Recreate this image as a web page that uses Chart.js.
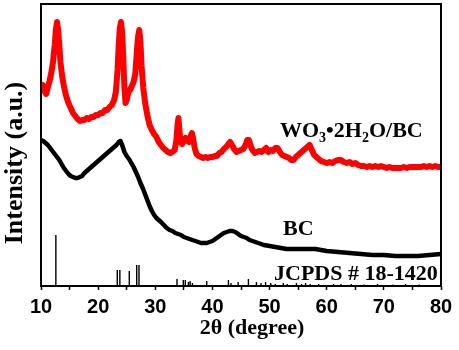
<!DOCTYPE html>
<html>
<head>
<meta charset="utf-8">
<script src="https://cdn.jsdelivr.net/npm/chart.js@4"></script>
<style>
  html, body { margin: 0; padding: 0; background: #fff; }
  #wrap { width: 459px; height: 350px; }
</style>
</head>
<body>
<div id="wrap"><canvas id="xrd"></canvas></div>
<script>
// WO3·2H2O/BC pattern (offset, arbitrary units)
const wo3Angle = [10.0, 10.3, 10.6, 10.9, 11.2, 11.5, 11.8, 12.1, 12.4, 12.6, 12.8, 13.0, 13.2, 13.4, 13.7, 14.0, 14.4, 14.8, 15.2, 15.6,
    16.0, 16.4, 16.8, 17.2, 17.6, 18.0, 18.4, 18.8, 19.2, 19.6, 20.0, 20.4, 20.8, 21.2, 21.6, 22.0, 22.4, 22.8, 23.1, 23.4,
    23.6, 23.8, 24.0, 24.2, 24.4, 24.6, 24.8, 25.0, 25.3, 25.6, 25.9, 26.2, 26.5, 26.8, 27.0, 27.2, 27.4, 27.6, 27.9, 28.2,
    28.6, 29.0, 29.4, 29.8, 30.2, 30.6, 31.0, 31.4, 31.8, 32.2, 32.6, 33.0, 33.4, 33.7, 33.9, 34.05, 34.2, 34.4, 34.7, 35.0,
    35.3, 35.6, 35.9, 36.2, 36.4, 36.6, 36.9, 37.2, 37.6, 38.0, 38.4, 38.8, 39.2, 39.6, 40.0, 40.4, 40.8, 41.2, 41.6, 42.0,
    42.4, 42.8, 43.1, 43.4, 43.8, 44.2, 44.6, 45.0, 45.4, 45.8, 46.1, 46.4, 46.7, 47.0, 47.4, 47.8, 48.2, 48.6, 49.0, 49.4,
    49.8, 50.2, 50.6, 51.0, 51.4, 51.8, 52.2, 52.6, 53.0, 53.4, 53.8, 54.2, 54.6, 55.0, 55.4, 55.8, 56.2, 56.6, 57.0, 57.4,
    57.8, 58.2, 58.6, 59.0, 59.5, 60.0, 60.5, 61.0, 61.5, 62.0, 62.5, 63.0, 63.5, 64.0, 64.5, 65.0, 65.5, 66.0, 66.5, 67.0,
    67.5, 68.0, 68.5, 69.0, 69.5, 70.0, 70.5, 71.0, 71.5, 72.0, 72.5, 73.0, 73.5, 74.0, 74.5, 75.0, 75.5, 76.0, 76.5, 77.0,
    77.5, 78.0, 78.5, 79.0, 79.5, 80.0];
const wo3Intensity = [198, 201, 195, 192, 199, 205, 213, 224, 241, 256, 264, 256, 241, 224, 210, 200, 190, 183, 178, 173,
    170, 167, 165, 166, 166, 168, 167, 169, 169, 171, 171, 173, 173, 176, 176, 179, 181, 186, 194, 216,
    241, 258, 264, 254, 228, 198, 183, 186, 194, 196, 200, 204, 212, 236, 250, 256, 244, 220, 198, 184,
    171, 161, 156, 152, 149, 144, 141, 138, 136, 134, 133, 134, 136, 146, 161, 168, 158, 144, 142, 146,
    148, 145, 144, 150, 153, 148, 138, 132, 130, 129, 128, 129, 128, 129, 129, 130, 130, 133, 134, 137,
    139, 142, 144, 141, 137, 134, 135, 136, 137, 141, 146, 146, 140, 136, 133, 134, 135, 134, 136, 138,
    134, 136, 135, 138, 138, 134, 131, 130, 129, 128, 126, 126, 129, 131, 133, 135, 137, 139, 141, 136,
    131, 129, 127, 125, 124, 123, 124, 123, 125, 126, 126, 124, 123, 124, 122, 123, 121, 120, 120, 119,
    120, 119, 120, 119, 120, 119, 118, 119, 118, 118, 118, 118, 119, 118, 119, 119, 119, 119, 119, 120,
    119, 120, 119, 120, 119, 119];

// bare BC pattern
const bcAngle = [10.0, 10.4, 10.8, 11.2, 11.6, 12.0, 12.4, 12.8, 13.2, 13.6, 14.0, 14.4, 14.8, 15.2, 15.6, 16.0, 16.4, 16.8, 17.2, 17.6,
    18.0, 18.4, 18.8, 19.2, 19.6, 20.0, 20.4, 20.8, 21.2, 21.6, 22.0, 22.4, 22.8, 23.2, 23.6, 23.9, 24.2, 24.6, 25.0, 25.4,
    25.8, 26.2, 26.6, 27.0, 27.4, 27.8, 28.2, 28.6, 29.0, 29.4, 29.8, 30.2, 30.6, 31.0, 31.5, 32.0, 32.5, 33.0, 33.5, 34.0,
    34.5, 35.0, 35.5, 36.0, 36.5, 37.0, 37.5, 38.0, 38.5, 39.0, 39.5, 40.0, 40.5, 41.0, 41.5, 42.0, 42.5, 43.0, 43.5, 44.0,
    44.5, 45.0, 45.5, 46.0, 46.5, 47.0, 47.5, 48.0, 48.5, 49.0, 50.0, 51.0, 52.0, 53.0, 54.0, 55.0, 56.0, 57.0, 58.0, 59.0,
    60.0, 62.0, 64.0, 66.0, 68.0, 70.0, 72.0, 74.0, 76.0, 78.0, 80.0];
const bcIntensity = [146, 145, 143, 141, 138, 135, 132, 129, 126, 122, 118, 115, 112, 110, 109, 108, 108, 109, 110, 113,
    115, 117, 119, 121, 123, 125, 127, 129, 131, 133, 135, 137, 139, 141, 144, 145, 141, 134, 130, 127,
    123, 119, 114, 109, 103, 98, 92, 86, 80, 75, 71, 68, 66, 64, 61, 58, 56, 55, 53, 52,
    51, 49, 48, 47, 46, 45, 44, 43, 43, 43, 44, 45, 47, 49, 51, 53, 54, 55, 55, 54,
    52, 50, 49, 48, 46, 45, 44, 43, 42, 41, 40, 39, 38, 37, 37, 37, 37, 37, 37, 36,
    35, 34, 33, 32, 31, 31, 30, 30, 30, 31, 32];

// JCPDS # 18-1420 reference lines
const stickAngle = [12.6, 23.35, 23.8, 25.45, 26.75, 27.15, 33.8, 34.9, 35.25, 35.8, 36.1, 36.5, 39.0, 42.8, 43.25, 44.5, 46.3, 47.7,
    48.5, 49.3, 50.2, 51.0, 52.4, 53.1, 54.7, 55.6, 56.3, 57.1, 58.6, 61.2, 62.5, 64.3, 66.5, 68.9, 71.6, 73.8, 76.2];
const stickHeight = [51, 16, 16, 15, 21, 21, 7, 6, 6, 4, 5, 3, 5, 6, 3, 4, 7, 4,
    3, 4, 3, 2, 3, 2, 3, 2, 3, 2, 2, 2, 2, 2, 1.5, 2, 1.5, 2, 1.5];

const xTicks = [10, 20, 30, 40, 50, 60, 70, 80];

const toPoints = (xs, ys) => xs.map((x, i) => ({ x: x, y: ys[i] }));

// each stick: bottom, top, then a gap
const stickPoints = [];
stickAngle.forEach((a, i) => {
    stickPoints.push({ x: a, y: 0 }, { x: a, y: stickHeight[i] }, { x: a, y: null });
});

const serif = '"Liberation Serif", "Times New Roman", serif';

// labels, axis titles and the frame
const labelPlugin = {
    id: 'labels',
    afterDraw(chart) {
        const ctx = chart.ctx;
        const a = chart.chartArea;
        ctx.save();
        ctx.strokeStyle = '#000';
        ctx.lineWidth = 2;
        ctx.strokeRect(a.left, a.top, a.right - a.left, a.bottom - a.top);

        ctx.fillStyle = '#000';
        ctx.textBaseline = 'alphabetic';
        ctx.textAlign = 'left';

        // WO3•2H2O/BC with subscripts
        const big = 'bold 22px ' + serif;
        const sub = 'bold 14px ' + serif;
        const parts = [['WO', big, 0], ['3', sub, 5], ['\u20222H', big, 0], ['2', sub, 5], ['O/BC', big, 0]];
        let x = 280;
        parts.forEach(([t, f, dy]) => {
            ctx.font = f;
            ctx.fillText(t, x, 137 + dy);
            x += ctx.measureText(t).width;
        });

        ctx.font = big;
        ctx.fillText('BC', 283, 235);
        ctx.fillText('JCPDS # 18-1420', 274, 280);

        ctx.font = 'bold 22px ' + serif;
        ctx.textAlign = 'center';
        ctx.fillText('2\u03b8 (degree)', 252, 334);

        ctx.translate(22, 163);
        ctx.rotate(-Math.PI / 2);
        ctx.font = 'bold 26px ' + serif;
        ctx.fillText('Intensity (a.u.)', 0, 0);
        ctx.restore();
    }
};

new Chart(document.getElementById('xrd'), {
    type: 'line',
    data: {
        datasets: [
            {
                label: 'JCPDS # 18-1420',
                data: stickPoints,
                borderColor: '#000',
                borderWidth: 1.4,
                pointRadius: 0,
                spanGaps: false
            },
            {
                label: 'BC',
                data: toPoints(bcAngle, bcIntensity),
                borderColor: '#000',
                borderWidth: 4.5,
                borderJoinStyle: 'round',
                pointRadius: 0
            },
            {
                label: 'WO3·2H2O/BC',
                data: toPoints(wo3Angle, wo3Intensity),
                borderColor: '#ff0000',
                borderWidth: 6,
                borderJoinStyle: 'round',
                pointRadius: 0
            }
        ]
    },
    options: {
        responsive: true,
        maintainAspectRatio: false,
        animation: false,
        layout: { padding: { top: 4, right: 18, left: 0, bottom: 0 } },
        plugins: {
            legend: { display: false },
            tooltip: { enabled: false }
        },
        scales: {
            x: {
                type: 'linear',
                min: 10,
                max: 80,
                offset: false,
                afterFit: s => { s.height = 64; },
                afterBuildTicks: s => {
                    const t = [];
                    for (let v = 10; v <= 80; v += 5) t.push({ value: v });
                    s.ticks = t;
                },
                border: { display: false },
                grid: {
                    drawOnChartArea: false,
                    drawTicks: true,
                    tickLength: 4,
                    tickColor: '#000',
                    tickWidth: 1.5
                },
                ticks: {
                    autoSkip: false,
                    maxRotation: 0,
                    padding: 5,
                    color: '#000',
                    font: { family: '"Liberation Sans", Arial, sans-serif', size: 20, weight: 'bold' },
                    callback: v => xTicks.includes(v) ? String(v) : ''
                }
            },
            y: {
                type: 'linear',
                min: 0,
                max: 282,
                afterFit: s => { s.width = 41; },
                border: { display: false },
                grid: { display: false, drawTicks: false },
                ticks: { display: false }
            }
        }
    },
    plugins: [labelPlugin]
});
</script>
</body>
</html>
